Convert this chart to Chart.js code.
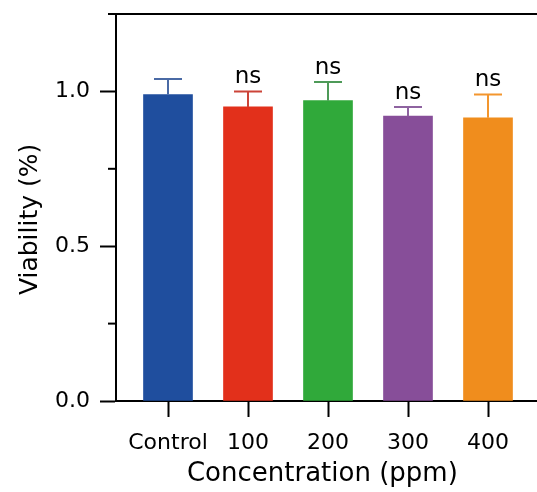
<!DOCTYPE html>
<html>
<head>
<meta charset="utf-8" />
<title>Viability</title>
<script src="https://cdn.jsdelivr.net/npm/chart.js@4.4.0/dist/chart.umd.min.js"></script>
<style>
    body { margin: 0; background: #fff; }
    #chart { display: block; }
</style>
</head>
<body>
<canvas id="chart" width="537" height="492"></canvas>
<script>
// data
var categories = ['Control', '100', '200', '300', '400'];
var viability = [0.99, 0.95, 0.97, 0.92, 0.915];
var errors = [0.05, 0.05, 0.06, 0.03, 0.075];
var marks = ['', 'ns', 'ns', 'ns', 'ns'];
var majorTicks = [0, 0.5, 1.0];
var minorTicks = [0.25, 0.75, 1.25];

var barColors = ['#1f4e9e', '#e2301b', '#30a93a', '#874e99', '#f08d1d'];
var errColors = ['#4a6aa5', '#cc4438', '#4e9a58', '#8e63a0', '#f3962e'];

var FONT = "'DejaVu Sans', sans-serif";

// error bars, "ns" labels, minor ticks and top frame line
var extras = {
    id: 'extras',
    afterDatasetsDraw: function (chart) {
        var ctx = chart.ctx;
        var y = chart.scales.y;
        var area = chart.chartArea;
        var bars = chart.getDatasetMeta(0).data;
        ctx.save();
        ctx.lineWidth = 2;
        bars.forEach(function (bar, i) {
            var capY = y.getPixelForValue(viability[i] + errors[i]);
            ctx.strokeStyle = errColors[i];
            ctx.beginPath();
            ctx.moveTo(bar.x, bar.y);
            ctx.lineTo(bar.x, capY);
            ctx.moveTo(bar.x - 14, capY);
            ctx.lineTo(bar.x + 14, capY);
            ctx.stroke();
            if (marks[i]) {
                ctx.fillStyle = '#000';
                ctx.font = '23px ' + FONT;
                ctx.textAlign = 'center';
                ctx.textBaseline = 'alphabetic';
                ctx.fillText(marks[i], bar.x, capY - 8);
            }
        });
        ctx.strokeStyle = '#000';
        minorTicks.forEach(function (v) {
            var py = y.getPixelForValue(v);
            ctx.beginPath();
            ctx.moveTo(area.left - 8, py);
            ctx.lineTo(area.left, py);
            ctx.stroke();
        });
        var topY = y.getPixelForValue(1.25);
        ctx.beginPath();
        ctx.moveTo(area.left, topY);
        ctx.lineTo(area.right, topY);
        ctx.stroke();
        ctx.restore();
    }
};

var chart = new Chart(document.getElementById('chart'), {
    type: 'bar',
    data: {
        datasets: [{
            data: viability.map(function (v, i) { return { x: i, y: v }; }),
            backgroundColor: barColors,
            borderWidth: 0,
            barThickness: 49
        }]
    },
    options: {
        responsive: false,
        animation: false,
        layout: { padding: { top: 14, left: 0, right: 0, bottom: 0 } },
        plugins: { legend: { display: false }, tooltip: { enabled: false } },
        scales: {
            x: {
                type: 'linear',
                min: -0.65,
                max: 4.6125,
                offset: false,
                grid: { offset: false, drawOnChartArea: false, tickLength: 16, tickWidth: 2, tickColor: '#000' },
                border: { display: true, width: 2, color: '#000' },
                afterBuildTicks: function (scale) {
                    scale.ticks = categories.map(function (c, i) { return { value: i }; });
                },
                afterFit: function (scale) {
                    scale.height = 91;
                    scale.paddingLeft = 0;
                    scale.paddingRight = 0;
                },
                ticks: {
                    padding: 13,
                    color: '#000',
                    font: { family: FONT, size: 22 },
                    autoSkip: false,
                    maxRotation: 0,
                    callback: function (v) { return categories[v]; }
                },
                title: {
                    display: true,
                    text: 'Concentration (ppm) ',
                    color: '#000',
                    font: { family: FONT, size: 26 },
                    padding: { top: 0, bottom: 2 }
                }
            },
            y: {
                min: 0,
                max: 1.25,
                grid: { drawOnChartArea: false, tickLength: 16, tickWidth: 2, tickColor: '#000' },
                border: { display: true, width: 2, color: '#000' },
                afterBuildTicks: function (scale) {
                    scale.ticks = majorTicks.map(function (v) { return { value: v }; });
                },
                afterFit: function (scale) {
                    scale.width = 116;
                    scale.paddingTop = 0;
                    scale.paddingBottom = 0;
                },
                ticks: {
                    padding: 10,
                    color: '#000',
                    font: { family: FONT, size: 22 },
                    callback: function (v) { return v.toFixed(1); }
                },
                title: {
                    display: true,
                    text: 'Viability (%)   ',
                    color: '#000',
                    font: { family: FONT, size: 25 },
                    padding: { top: 15, bottom: 0 }
                }
            }
        }
    },
    plugins: [extras]
});
</script>
</body>
</html>
